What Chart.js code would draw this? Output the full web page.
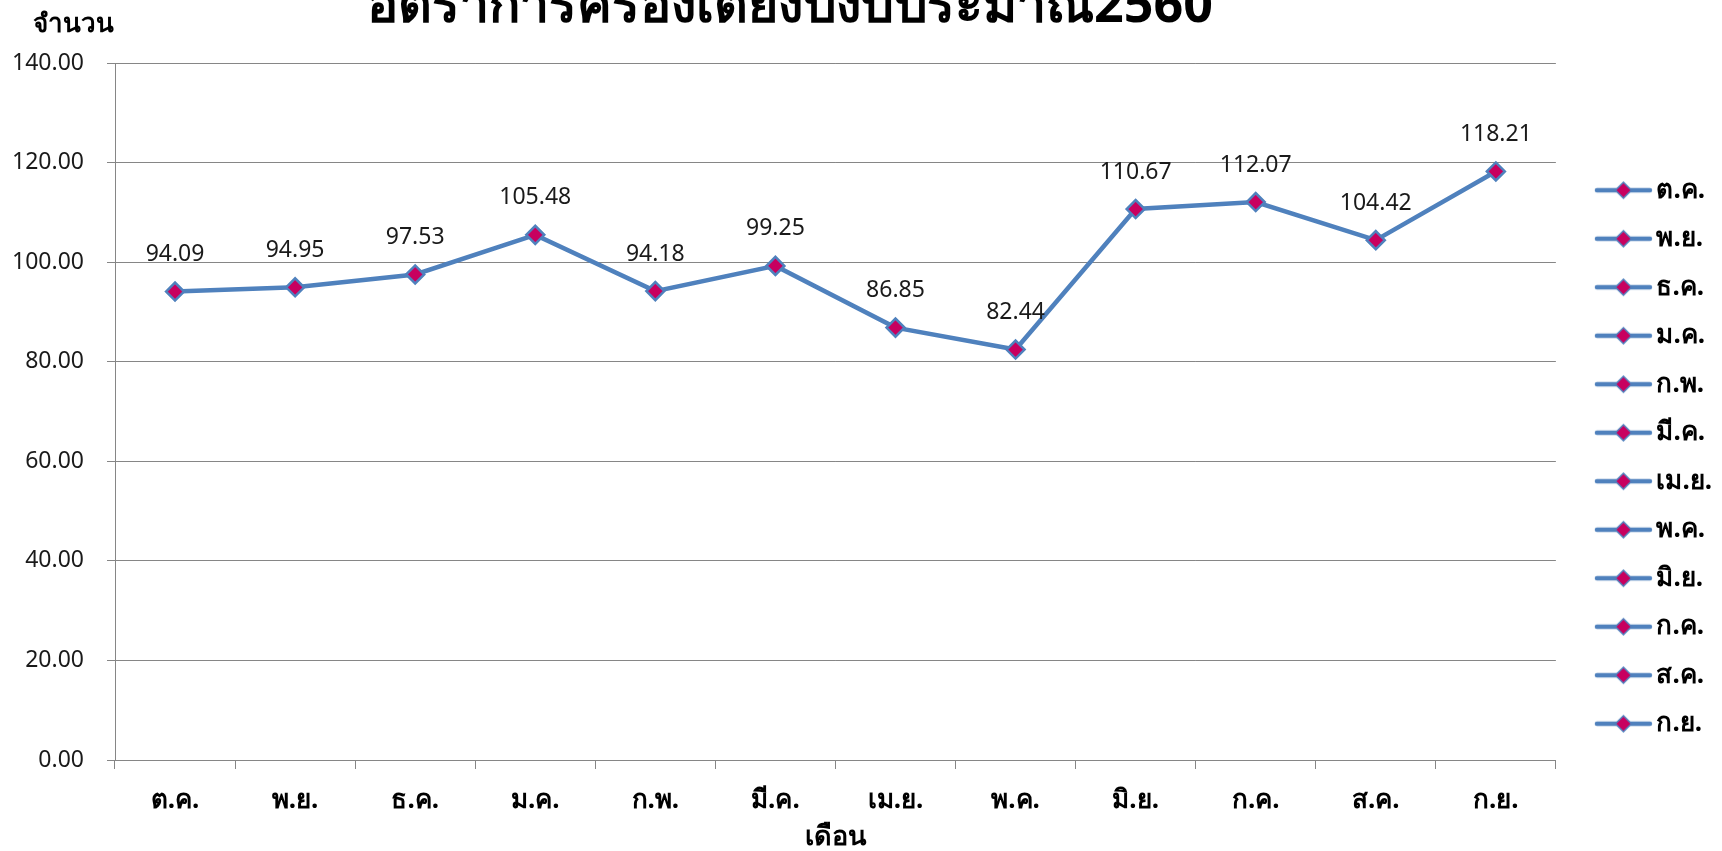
<!DOCTYPE html>
<html>
<head>
<meta charset="utf-8">
<script src="https://cdn.jsdelivr.net/npm/chart.js@4.4.0/dist/chart.umd.min.js"></script>
<style>
  html, body { margin: 0; padding: 0; background: #ffffff; }
  #wrap { width: 1722px; height: 851px; }
</style>
</head>
<body>
<div id="wrap"><canvas id="bedChart" width="1722" height="851"></canvas></div>
<script>
// Chart data
const chartTitle = 'อัตราการครองเตียงปีงบประมาณ2560';
const yTitle = 'จำนวน';
const xTitle = 'เดือน';
const months = ['ต.ค.', 'พ.ย.', 'ธ.ค.', 'ม.ค.', 'ก.พ.', 'มี.ค.', 'เม.ย.', 'พ.ค.', 'มิ.ย.', 'ก.ค.', 'ส.ค.', 'ก.ย.'];
const occupancy = [94.09, 94.95, 97.53, 105.48, 94.18, 99.25, 86.85, 82.44, 110.67, 112.07, 104.42, 118.21];
const yTicks = [0, 20, 40, 60, 80, 100, 120, 140];

const thaiFont = "Tahoma, 'Noto Sans', 'DejaVu Sans', sans-serif";
const numFont = "'Noto Sans', 'Liberation Sans', sans-serif";
const lineBlue = '#4f81bd';
const markerPink = '#c8005f';

// Legend symbol: short line with a diamond, drawn in a wider transparent canvas
function makeLegendSymbol() {
    const c = document.createElement('canvas');
    c.width = 100;
    c.height = 24;
    const g = c.getContext('2d');
    g.strokeStyle = lineBlue;
    g.lineWidth = 4.5;
    g.lineCap = 'round';
    g.beginPath();
    g.moveTo(36, 12);
    g.lineTo(89, 12);
    g.stroke();
    g.beginPath();
    g.moveTo(62.5, 4);
    g.lineTo(70.5, 12);
    g.lineTo(62.5, 20);
    g.lineTo(54.5, 12);
    g.closePath();
    g.fillStyle = markerPink;
    g.fill();
    g.strokeStyle = lineBlue;
    g.lineWidth = 1.5;
    g.stroke();
    return c;
}
const legendSymbol = makeLegendSymbol();

// Extra text: title, y axis caption, value labels
const extraText = {
    id: 'extraText',
    afterDatasetsDraw(chart) {
        const ctx = chart.ctx;
        ctx.save();
        ctx.fillStyle = '#000000';
        ctx.textAlign = 'center';
        ctx.textBaseline = 'alphabetic';
        ctx.font = "bold 52px " + thaiFont;
        ctx.fillText(chartTitle, 790, 22);

        ctx.textAlign = 'left';
        ctx.font = "bold 26px " + thaiFont;
        ctx.fillText(yTitle, 33, 32);

        ctx.textAlign = 'center';
        ctx.textBaseline = 'middle';
        ctx.font = "23px " + numFont;
        ctx.fillStyle = '#1a1a1a';
        const meta = chart.getDatasetMeta(0);
        meta.data.forEach((pt, i) => {
            ctx.fillText(occupancy[i].toFixed(2), pt.x, pt.y - 37);
        });
        ctx.restore();
    }
};

const ctx = document.getElementById('bedChart').getContext('2d');
new Chart(ctx, {
    type: 'line',
    data: {
        labels: months,
        datasets: [{
            label: chartTitle,
            data: occupancy,
            borderColor: lineBlue,
            borderWidth: 4.5,
            pointStyle: 'rectRot',
            pointRadius: 9,
            pointBackgroundColor: markerPink,
            pointBorderColor: lineBlue,
            pointBorderWidth: 2.5,
            tension: 0,
            fill: false
        }]
    },
    options: {
        responsive: false,
        animation: false,
        layout: {
            padding: { top: 63, left: 0, right: 0, bottom: 0 }
        },
        plugins: {
            title: { display: false },
            tooltip: { enabled: false },
            legend: {
                position: 'right',
                align: 'center',
                maxWidth: 168,
                onClick: null,
                labels: {
                    usePointStyle: true,
                    pointStyleWidth: 65,
                    padding: 22.5,
                    color: '#000000',
                    font: { family: thaiFont, size: 26, weight: 'bold' },
                    generateLabels: () => months.map((m, i) => ({
                        text: m,
                        pointStyle: legendSymbol,
                        fillStyle: markerPink,
                        strokeStyle: lineBlue,
                        lineWidth: 0,
                        hidden: false,
                        datasetIndex: 0,
                        index: i
                    }))
                }
            }
        },
        scales: {
            x: {
                offset: true,
                afterFit: axis => { axis.height = 91; },
                grid: {
                    display: true,
                    offset: true,
                    drawOnChartArea: false,
                    color: '#868686',
                    tickLength: 9
                },
                border: { color: '#868686', width: 1 },
                ticks: {
                    color: '#000000',
                    padding: 16,
                    font: { family: thaiFont, size: 26, weight: 'bold' }
                },
                title: {
                    display: true,
                    text: xTitle,
                    color: '#000000',
                    padding: { top: 5, bottom: 0 },
                    font: { family: thaiFont, size: 27, weight: 'bold', lineHeight: 1.0 }
                }
            },
            y: {
                min: 0,
                max: 140,
                afterFit: axis => { axis.width = 115; },
                afterBuildTicks: axis => {
                    axis.ticks = yTicks.map(v => ({ value: v }));
                },
                grid: {
                    color: '#868686',
                    tickLength: 8
                },
                border: { color: '#868686', width: 1 },
                ticks: {
                    color: '#1a1a1a',
                    padding: 23,
                    font: { family: numFont, size: 23 },
                    callback: v => Number(v).toFixed(2)
                }
            }
        }
    },
    plugins: [extraText]
});
</script>
</body>
</html>
